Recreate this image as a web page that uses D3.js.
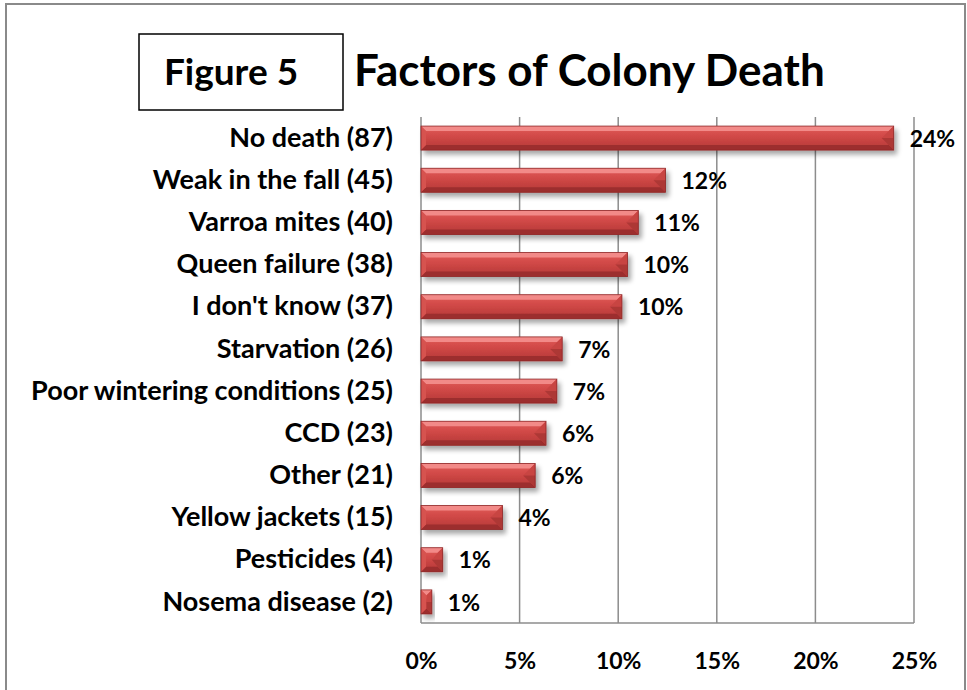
<!DOCTYPE html>
<html>
<head>
<meta charset="utf-8">
<script src="https://cdn.jsdelivr.net/npm/d3@7"></script>
<style>
  body { margin: 0; background: #fff; }
  svg { display: block; }
  text { font-family: Lato, "Open Sans", sans-serif; font-weight: 700; fill: #000; }
</style>
</head>
<body>
<div class="board"></div>
<script>
var categories = ['No death (87)', 'Weak in the fall (45)', 'Varroa mites (40)', 'Queen failure (38)',
  "I don't know (37)", 'Starvation (26)', 'Poor wintering conditions (25)', 'CCD (23)',
  'Other (21)', 'Yellow jackets (15)', 'Pesticides (4)', 'Nosema disease (2)'];
var shares = [23.97, 12.40, 11.02, 10.47, 10.19, 7.16, 6.89, 6.34, 5.79, 4.13, 1.10, 0.55];
var valueLabels = ['24%', '12%', '11%', '10%', '10%', '7%', '7%', '6%', '6%', '4%', '1%', '1%'];
var ticks = [0, 5, 10, 15, 20, 25];

var width = 967, height = 690;
var plot = {left: 421, right: 914, top: 117, bottom: 623};

var svg = d3.select('.board').append('svg')
  .attr('width', width)
  .attr('height', height);

var defs = svg.append('defs');

var grad = defs.append('linearGradient')
  .attr('id', 'barFace')
  .attr('x1', 0).attr('y1', 0).attr('x2', 0).attr('y2', 1);
grad.append('stop').attr('offset', '0%').attr('stop-color', '#e25d5b');
grad.append('stop').attr('offset', '45%').attr('stop-color', '#d04846');
grad.append('stop').attr('offset', '100%').attr('stop-color', '#b33837');

var shadow = defs.append('filter').attr('id', 'shadow')
  .attr('x', '-10%').attr('y', '-30%').attr('width', '130%').attr('height', '180%');
shadow.append('feGaussianBlur').attr('in', 'SourceAlpha').attr('stdDeviation', 2.5);
shadow.append('feOffset').attr('dx', 3).attr('dy', 4).attr('result', 'off');
shadow.append('feComponentTransfer').append('feFuncA').attr('type', 'linear').attr('slope', 0.35);
var merge = shadow.append('feMerge');
merge.append('feMergeNode');
merge.append('feMergeNode').attr('in', 'SourceGraphic');

// outer frame
svg.append('rect')
  .attr('x', 6).attr('y', 4)
  .attr('width', 959).attr('height', 720)
  .attr('fill', 'none')
  .attr('stroke', '#8a8a8a')
  .attr('stroke-width', 2);

var x = d3.scaleLinear().domain([0, 25]).range([plot.left, plot.right]);
var y = d3.scaleBand().domain(categories).range([plot.top, plot.bottom]).paddingInner(0.43).paddingOuter(0.215);

// gridlines
svg.append('g').selectAll('line')
  .data(ticks)
  .enter().append('line')
  .attr('x1', function(d) { return x(d); })
  .attr('x2', function(d) { return x(d); })
  .attr('y1', plot.top)
  .attr('y2', plot.bottom)
  .attr('stroke', '#8c8c8c')
  .attr('stroke-width', 1.5);

svg.append('line')
  .attr('x1', plot.left).attr('x2', plot.right)
  .attr('y1', plot.bottom).attr('y2', plot.bottom)
  .attr('stroke', '#8c8c8c')
  .attr('stroke-width', 1.5);

// x axis labels
var xAxis = d3.axisBottom(x)
  .tickValues(ticks)
  .tickSize(0)
  .tickFormat(function(d) { return d + '%'; });

var xg = svg.append('g')
  .attr('transform', 'translate(0,' + plot.bottom + ')')
  .call(xAxis);
xg.select('.domain').remove();
xg.selectAll('text')
  .attr('y', 46).attr('dy', 0)
  .style('font-size', '23px').style('font-family', null);

// y axis labels
var yAxis = d3.axisLeft(y).tickSize(0).tickPadding(28);
var yg = svg.append('g')
  .attr('transform', 'translate(' + plot.left + ',0)')
  .call(yAxis);
yg.select('.domain').remove();
yg.selectAll('text').style('font-size', '27px').style('font-family', null);

// bars
var bars = svg.append('g').selectAll('g.bar')
  .data(categories)
  .enter().append('g')
  .attr('class', 'bar')
  .attr('filter', 'url(#shadow)');

bars.each(function(d, i) {
  var g = d3.select(this);
  var x0 = x(0), x1 = x(shares[i]);
  var y0 = y(d), h = y.bandwidth(), y1 = y0 + h;
  var w = x1 - x0;
  var b = Math.min(5, w / 2, h / 2);

  g.append('rect')
    .attr('x', x0).attr('y', y0)
    .attr('width', w).attr('height', h)
    .attr('fill', 'url(#barFace)');

  // top bevel
  g.append('polygon')
    .attr('points', [[x0, y0], [x1, y0], [x1 - b, y0 + b], [x0 + b, y0 + b]].join(' '))
    .attr('fill', '#f28a88');
  // bottom bevel
  g.append('polygon')
    .attr('points', [[x0, y1], [x1, y1], [x1 - b, y1 - b], [x0 + b, y1 - b]].join(' '))
    .attr('fill', '#9c2e2d');
  // right end facets
  var e = Math.min(h / 2, w / 2);
  g.append('polygon')
    .attr('points', [[x1, y0], [x1, y0 + h / 2], [x1 - e, y0 + h / 2], [x1 - b, y0 + b]].join(' '))
    .attr('fill', '#c84443');
  g.append('polygon')
    .attr('points', [[x1, y0 + h / 2], [x1, y1], [x1 - b, y1 - b], [x1 - e, y0 + h / 2]].join(' '))
    .attr('fill', '#ad3736');
  // left bevel
  g.append('polygon')
    .attr('points', [[x0, y0], [x0 + b, y0 + b], [x0 + b, y1 - b], [x0, y1]].join(' '))
    .attr('fill', '#d65250');
  g.append('rect')
    .attr('x', x0).attr('y', y0)
    .attr('width', w).attr('height', h)
    .attr('fill', 'none')
    .attr('stroke', '#8f2a2a')
    .attr('stroke-width', 0.8);
});

// value labels
svg.append('g').selectAll('text')
  .data(valueLabels)
  .enter().append('text')
  .attr('x', function(d, i) { return x(shares[i]) + 16; })
  .attr('y', function(d, i) { return y(categories[i]) + y.bandwidth() / 2; })
  .attr('dy', '0.38em')
  .style('font-size', '23px')
  .text(function(d) { return d; });

// title box
svg.append('rect')
  .attr('x', 139).attr('y', 34)
  .attr('width', 204).attr('height', 76)
  .attr('fill', '#fff')
  .attr('stroke', '#000')
  .attr('stroke-width', 1.5);

svg.append('text')
  .attr('x', 231).attr('y', 85)
  .attr('text-anchor', 'middle')
  .style('font-size', '37px')
  .text('Figure 5');

svg.append('text')
  .attr('x', 354).attr('y', 86)
  .style('font-size', '44px')
  .text('Factors of Colony Death');
</script>
</body>
</html>
